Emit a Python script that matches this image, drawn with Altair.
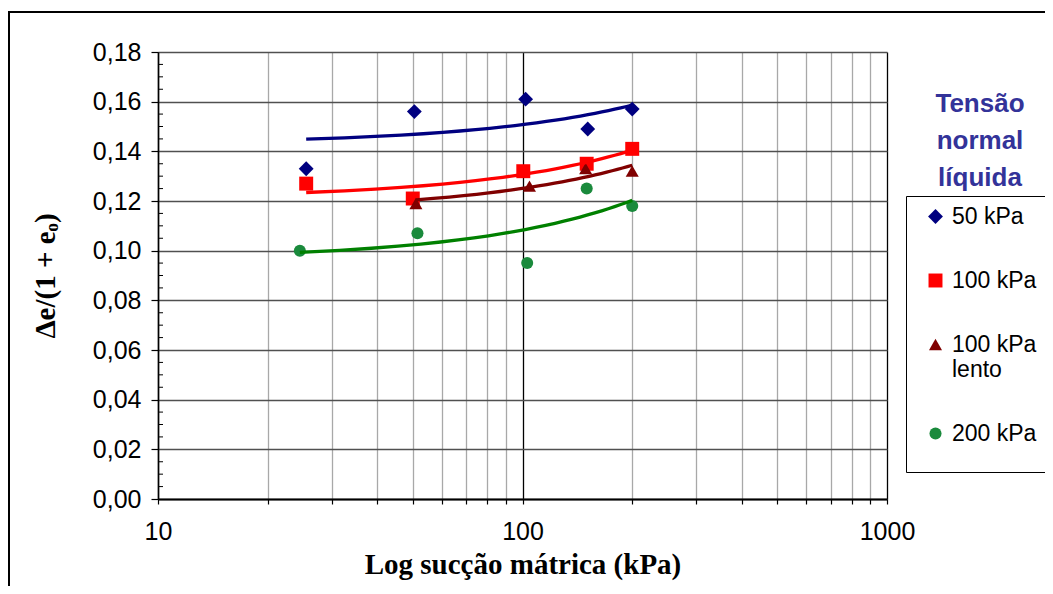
import altair as alt
import pandas as pd

# ---------------- data ----------------
series = ["50 kPa", "100 kPa", "100 kPa lento", "200 kPa"]

x_50 = [25.5, 50.5, 102, 151, 200]
y_50 = [0.133, 0.156, 0.161, 0.149, 0.157]

x_100 = [25.5, 50, 100.5, 150, 200]
y_100 = [0.127, 0.121, 0.132, 0.135, 0.141]

x_100l = [51, 104.5, 149, 200]
y_100l = [0.119, 0.126, 0.133, 0.132]

x_200 = [24.5, 51.5, 103, 150, 200]
y_200 = [0.100, 0.107, 0.095, 0.125, 0.118]

x_ticks = [10, 20, 30, 40, 50, 60, 70, 80, 90, 100,
           200, 300, 400, 500, 600, 700, 800, 900, 1000]
y_ticks = [0.0, 0.02, 0.04, 0.06, 0.08, 0.10, 0.12, 0.14, 0.16, 0.18]
y_minor = [0.005, 0.01, 0.015, 0.025, 0.03, 0.035, 0.045, 0.05, 0.055,
           0.065, 0.07, 0.075, 0.085, 0.09, 0.095, 0.105, 0.11, 0.115,
           0.125, 0.13, 0.135, 0.145, 0.15, 0.155, 0.165, 0.17, 0.175]

legend_title = ["Tensão", "normal", "líquida"]

# ---------------- styles ----------------
point_colors = ["#000080", "#ff0000", "#800000", "#1a8a3c"]
line_colors = ["#000080", "#ff0000", "#800000", "#008000"]
shapes = ["diamond", "square", "triangle-up", "circle"]
sizes = [220, 145, 270, 120]

rows = []
for name, xs, ys in [(series[0], x_50, y_50), (series[1], x_100, y_100),
                     (series[2], x_100l, y_100l), (series[3], x_200, y_200)]:
    for a, b in zip(xs, ys):
        rows.append({"serie": name, "x": a, "y": b})
df = pd.DataFrame(rows)

x_scale = alt.Scale(type="log", domain=[10, 1000], nice=False)
y_scale = alt.Scale(domain=[0, 0.18], nice=False, zero=False)

major_test = "indexof([10, 100, 1000], datum.value) >= 0"

x_axis = alt.Axis(
    values=x_ticks,
    labelExpr=major_test + " ? format(datum.value, 'd') : ''",
    labelOverlap=False, labelFlush=False,
    labelFont="Liberation Sans", labelFontSize=25, labelColor="black",
    labelPadding=15,
    tickSize=5, tickColor="black", tickWidth=1.2,
    domainColor="black", domainWidth=2,
    grid=True,
    gridColor={"condition": {"test": major_test, "value": "#000000"}, "value": "#a8a8a8"},
    gridWidth=1.3,
    title="Log sucção mátrica (kPa)",
    titleFont="Liberation Serif", titleFontSize=29, titleFontWeight="bold",
    titleColor="black", titleX=364.5, titleY=65, titleAlign="center",
    titleBaseline="middle",
)

y_axis = alt.Axis(
    values=y_ticks,
    labelExpr="replace(format(datum.value, '.2f'), '.', ',')",
    labelFont="Liberation Sans", labelFontSize=25, labelColor="black",
    labelPadding=10,
    tickSize=7, tickColor="black", tickWidth=1.2,
    domainColor="black", domainWidth=1.5,
    grid=True, gridColor="#505050", gridWidth=1.3,
    title="Δe/(1 + eₒ)",
    titleFont="Liberation Serif", titleFontSize=29, titleFontWeight="bold",
    titleColor="black", titleX=-113, titleY=223.5, titleAlign="center",
    titleBaseline="middle", titleAngle=270,
)

legend_kw = dict(
    title=" ", titleOrient="bottom", titlePadding=6, titleFontSize=12,
    orient="none", legendX=748, legendY=144,
    padding=9, rowPadding=40, symbolOffset=9, labelOffset=5,
    labelFont="Liberation Sans", labelFontSize=23, labelColor="black",
    labelLimit=300,
    labelExpr="datum.label == '100 kPa lento' ? ['100 kPa', 'lento'] : datum.label",
    strokeColor="black", fillColor="white", symbolSize=100,
    symbolStrokeWidth=0,
)

frame = alt.Chart(alt.Data(values=[{}])).mark_rect(
    fillOpacity=0, stroke="black", strokeWidth=2
).encode(x=alt.value(-149), x2=alt.value(1300), y=alt.value(-40), y2=alt.value(900))

minor = alt.Chart(pd.DataFrame({"y": y_minor})).mark_rule(
    color="black", strokeWidth=1
).encode(
    y=alt.Y("y:Q", scale=y_scale, axis=y_axis),
    x=alt.value(0), x2=alt.value(5),
)

trend = alt.Chart(df).transform_regression(
    "x", "y", groupby=["serie"], method="poly", order=1
).mark_line(strokeWidth=3.3, clip=True).encode(
    x=alt.X("x:Q", scale=x_scale, axis=x_axis),
    y=alt.Y("y:Q", scale=y_scale, axis=y_axis),
    stroke=alt.Stroke("serie:N", scale=alt.Scale(domain=series, range=line_colors), legend=None),
)

points = alt.Chart(df).mark_point(filled=True, opacity=1).encode(
    x=alt.X("x:Q", scale=x_scale, axis=x_axis),
    y=alt.Y("y:Q", scale=y_scale, axis=y_axis),
    color=alt.Color("serie:N", scale=alt.Scale(domain=series, range=point_colors),
                    legend=alt.Legend(**legend_kw)),
    shape=alt.Shape("serie:N", scale=alt.Scale(domain=series, range=shapes),
                    legend=alt.Legend(**legend_kw)),
    size=alt.Size("serie:N", scale=alt.Scale(domain=series, range=sizes), legend=None),
)

title_txt = alt.Chart(alt.Data(values=[{}])).mark_text(
    text=legend_title, font="Liberation Sans", fontSize=26, fontWeight="bold",
    color="#333399", align="center", baseline="top", lineHeight=37,
).encode(x=alt.value(822), y=alt.value(39))

chart = alt.layer(points, trend, minor, frame, title_txt).properties(
    width=729, height=447,
    padding={"left": 150, "top": 44, "right": 158, "bottom": 87},
    autosize=alt.AutoSizeParams(type="none"),
    background="white",
).configure_view(strokeWidth=0)

chart.save("out.html", embed_options={"renderer": "svg", "actions": False})
